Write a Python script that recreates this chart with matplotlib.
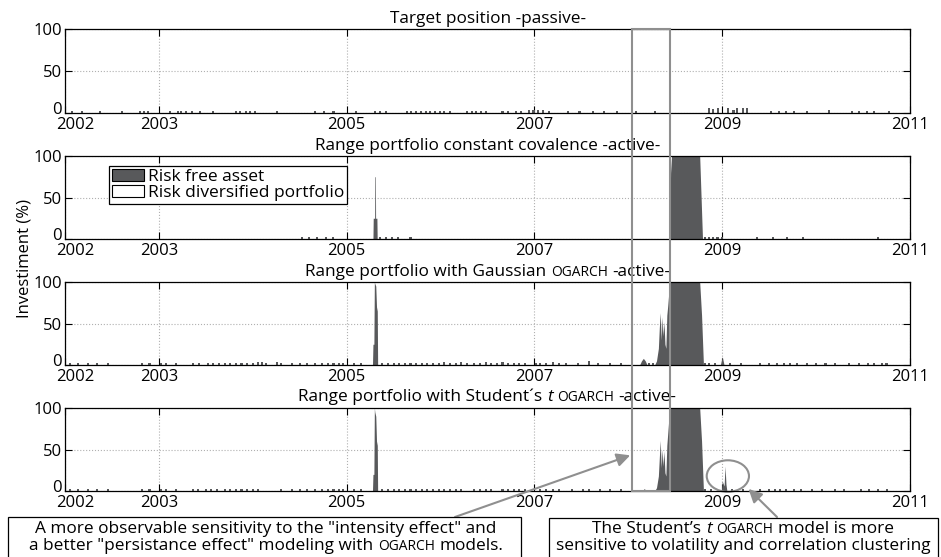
import matplotlib
matplotlib.use('Agg')
import matplotlib.pyplot as plt
import matplotlib.transforms as mtransforms
from matplotlib.patches import Patch, Rectangle, Ellipse

plt.rcParams['font.family'] = ['Open Sans', 'DejaVu Sans']
plt.rcParams['font.size'] = 12

DARK = '#58595b'
GRAY = '#8f8f8f'

year_ticks = [2002, 2003, 2005, 2007, 2009, 2011]
pct_ticks = [0, 50, 100]

# ---- panel 1: target position, passive (small blips only)
passive_x = [2002.00,
             2002.07, 2002.18, 2002.37, 2002.61, 2002.80, 2002.84, 2002.88, 2003.12,
             2003.20, 2003.24, 2003.29, 2003.35, 2003.44, 2003.58, 2003.82, 2003.86,
             2003.93, 2003.97, 2004.02, 2004.26, 2004.66, 2004.76, 2004.86,
             2005.10, 2005.30, 2005.36, 2005.42, 2005.64, 2005.69, 2005.74, 2005.79,
             2005.84, 2005.89, 2005.94, 2005.99, 2006.04, 2006.10, 2006.28, 2006.33,
             2006.38, 2006.43, 2006.48, 2006.66, 2006.72, 2006.80, 2006.86,
             2006.94, 2006.99, 2007.04, 2007.09, 2007.16,
             2007.36, 2007.48, 2007.62, 2007.74, 2007.88, 2008.08, 2008.28,
             2008.86, 2008.90, 2008.96, 2009.06, 2009.12, 2009.16, 2009.22, 2009.26,
             2009.52, 2009.60, 2009.68, 2009.76, 2009.90,
             2010.14,
             2010.38, 2010.46, 2010.54, 2010.62, 2010.78]
passive_h = [19,
             2, 2, 2, 2, 2, 2, 2, 2,
             2, 2, 2, 2, 2, 2, 2, 2,
             2, 2, 2, 2, 2, 2, 2,
             2, 2, 2, 2, 2, 2, 2, 2,
             2, 2, 2, 2, 2, 2, 2, 2,
             2, 2, 2, 2, 2, 2, 2,
             3, 3, 3, 3, 2,
             2, 2, 2, 2, 2, 2, 2,
             6, 5, 6, 6, 3, 6, 6, 6,
             2, 2, 2, 2, 2,
             4,
             2, 2, 2, 2, 2]

# ---- panel 2: constant covalence
cc_x = [2002.00, 2004.52, 2004.60, 2004.68, 2004.78, 2004.85, 2005.36, 2005.42,
        2005.48, 2005.55, 2005.68, 2008.82, 2008.86, 2008.90, 2008.95, 2009.00,
        2009.37, 2009.54, 2009.69, 2009.86, 2010.66]
cc_h = [18, 2, 2, 2, 2, 2, 2, 2,
        2, 2, 2, 3, 2, 3, 2, 2,
        2, 2, 2, 2, 2]
cc_area_x = [2005.280, 2005.283, 2005.298, 2005.300, 2005.306, 2005.308, 2005.322,
             2005.325, 2008.44, 2008.45, 2008.46, 2008.76, 2008.79]
cc_area_y = [0, 25, 25, 75, 75, 25, 25, 0, 0, 80, 100, 100, 0]

# ---- panel 3: Gaussian OGARCH
ga_x = [2002.05, 2002.14, 2002.24, 2002.34, 2002.46, 2002.82, 2002.90, 2003.02,
        2003.08, 2003.18, 2003.36, 2003.43, 2003.52, 2003.58, 2003.64, 2003.70,
        2003.76, 2003.82, 2003.88, 2003.94, 2004.00, 2004.06, 2004.10, 2004.14,
        2004.26, 2004.30, 2004.42, 2004.50, 2004.58, 2004.66, 2004.74, 2004.80,
        2004.86, 2004.92, 2004.96, 2005.08, 2005.15, 2005.38, 2005.44, 2005.50,
        2005.56, 2005.62, 2005.68, 2005.74, 2005.80, 2005.86, 2005.92, 2005.98,
        2006.04, 2006.10, 2006.16, 2006.22, 2006.28, 2006.36, 2006.42, 2006.48,
        2006.54, 2006.60, 2006.66, 2006.72, 2006.78, 2006.84, 2006.90, 2007.02,
        2007.06, 2007.12, 2007.20, 2007.26, 2007.34, 2007.46, 2007.58, 2007.68,
        2007.80, 2007.92, 2008.22, 2008.26, 2008.82, 2008.86, 2008.92, 2009.08,
        2009.20, 2009.40, 2009.50, 2009.58, 2009.66, 2009.72, 2009.80, 2009.90,
        2010.00, 2010.10, 2010.20, 2010.35, 2010.46, 2010.55, 2010.62, 2010.70,
        2010.75]
ga_h = [2, 2, 2, 2, 2, 2, 2, 3,
        2, 2, 2, 2, 3, 2, 2, 2,
        3, 2, 2, 3, 2, 4, 4, 3,
        4, 3, 2, 2, 2, 2, 2, 3,
        2, 3, 2, 2, 2, 2, 2, 2,
        2, 2, 2, 2, 3, 2, 2, 3,
        4, 2, 3, 4, 2, 3, 3, 4,
        2, 2, 4, 3, 2, 2, 3, 2,
        2, 3, 4, 2, 2, 2, 5, 2,
        2, 2, 2, 3, 3, 2, 3, 2,
        2, 2, 2, 2, 2, 2, 2, 2,
        2, 2, 2, 2, 2, 2, 2, 3,
        3]
ga_area_x = [2005.275, 2005.280, 2005.290, 2005.295, 2005.300, 2005.310, 2005.318,
             2005.326, 2005.330, 2008.12, 2008.14, 2008.16, 2008.18, 2008.20,
             2008.28, 2008.30, 2008.32, 2008.33, 2008.34, 2008.35, 2008.36,
             2008.37, 2008.38, 2008.39, 2008.40, 2008.41, 2008.42, 2008.44,
             2008.76, 2008.78, 2008.80, 2008.98, 2009.00, 2009.02]
ga_area_y = [0, 25, 25, 100, 98, 95, 70, 65, 0, 0, 5, 8, 5, 0,
             0, 5, 20, 45, 63, 30, 58, 35, 52, 25, 20, 60, 72, 100,
             100, 60, 0, 0, 10, 0]

# ---- panel 4: Student's t OGARCH
st_x = [2002.05, 2002.14, 2002.24, 2002.34, 2002.46, 2002.82, 2002.90, 2003.02,
        2003.08, 2003.18, 2003.36, 2003.42, 2003.50, 2003.56, 2003.62, 2003.70,
        2003.76, 2003.82, 2003.88, 2003.94, 2004.00, 2004.06, 2004.30, 2004.42,
        2004.50, 2004.58, 2004.66, 2004.74, 2004.80, 2004.86, 2004.92, 2004.96,
        2005.08, 2005.15, 2005.38, 2005.44, 2005.50, 2005.56, 2005.62, 2005.68,
        2005.74, 2005.80, 2005.86, 2005.92, 2005.98, 2006.04, 2006.10, 2006.16,
        2006.22, 2006.36, 2006.42, 2006.48, 2006.54, 2006.66, 2006.72, 2006.78,
        2006.84, 2006.90, 2007.06, 2007.12, 2007.20, 2007.26, 2007.40, 2007.52,
        2007.58, 2007.70, 2007.80, 2007.92, 2008.82, 2008.88, 2009.10, 2009.22,
        2009.40, 2009.50, 2009.56, 2009.62, 2009.68, 2009.76, 2009.84, 2009.96,
        2010.06, 2010.20, 2010.30, 2010.48, 2010.56, 2010.66, 2010.76]
st_h = [2, 2, 2, 2, 2, 2, 2, 2,
        2, 2, 2, 2, 2, 2, 2, 2,
        2, 2, 2, 2, 2, 2, 2, 2,
        2, 2, 2, 2, 2, 2, 2, 2,
        2, 2, 2, 2, 2, 2, 2, 2,
        2, 2, 2, 2, 2, 2, 2, 2,
        2, 2, 2, 2, 2, 2, 2, 2,
        2, 2, 2, 2, 3, 2, 2, 2,
        3, 2, 2, 2, 3, 2, 2, 2,
        2, 2, 2, 2, 2, 2, 2, 2,
        2, 2, 2, 2, 2, 2, 2]
st_area_x = [2005.275, 2005.280, 2005.290, 2005.295, 2005.300, 2005.310, 2005.318,
             2005.326, 2005.330, 2008.15, 2008.17, 2008.19, 2008.28, 2008.30,
             2008.32, 2008.33, 2008.34, 2008.35, 2008.36, 2008.37, 2008.38,
             2008.39, 2008.40, 2008.41, 2008.42, 2008.44, 2008.76, 2008.78,
             2008.80, 2008.99, 2009.00, 2009.02, 2009.03, 2009.04, 2009.05]
st_area_y = [0, 20, 20, 100, 95, 90, 60, 55, 0, 0, 3, 0, 0, 4,
             18, 40, 61, 28, 50, 30, 48, 22, 18, 55, 70, 100, 100, 60,
             0, 0, 12, 6, 30, 8, 0]

# titles / notes, split where the small-caps OGARCH and italic t sit
titles = [
    [("Target position -passive-", 'n')],
    [("Range portfolio constant covalence -active-", 'n')],
    [("Range portfolio with Gaussian", 'n'), ("OGARCH", 'sc'), ("-active-", 'n')],
    [("Range portfolio with Student´s", 'n'), ("t", 'i'), ("OGARCH", 'sc'), ("-active-", 'n')],
]
note_left = [
    [('A more observable sensitivity to the "intensity effect" and', 'n')],
    [('a better "persistance effect" modeling with', 'n'), ("OGARCH", 'sc'), ("models.", 'n')],
]
note_right = [
    [("The Student’s", 'n'), ("t", 'i'), ("OGARCH", 'sc'), ("model is more", 'n')],
    [("sensitive to volatility and correlation clustering", 'n')],
]

W, H = 941, 557
fig = plt.figure(figsize=(W / 100, H / 100), dpi=100)


def px_rect(left, top, width, height):
    return [left / W, 1 - (top + height) / H, width / W, height / H]


panels = [
    (29, 84, passive_x, passive_h, None, None),
    (156, 83, cc_x, cc_h, cc_area_x, cc_area_y),
    (282, 83, ga_x, ga_h, ga_area_x, ga_area_y),
    (408, 83, st_x, st_h, st_area_x, st_area_y),
]

axes = []
for top, hgt, bx, bh, ax_x, ax_y in panels:
    assert len(bx) == len(bh)
    ax = fig.add_axes(px_rect(65, top, 845, hgt))
    ax.set_axisbelow(True)
    ax.bar(bx, bh, width=0.022, color=DARK, linewidth=0)
    if ax_x is not None:
        assert len(ax_x) == len(ax_y)
        ax.fill_between(ax_x, ax_y, color=DARK, linewidth=0)
    ax.set_xlim(2002, 2011)
    ax.set_ylim(0, 100)
    ax.set_xticks(year_ticks)
    ax.set_yticks(pct_ticks)
    ax.tick_params(direction='in', length=5, width=0.8, top=True, right=True,
                   labelsize=12)
    ax.tick_params(axis='x', pad=3)
    ax.tick_params(axis='y', pad=2)
    ax.grid(True, linestyle=':', color='#b0b0b0', linewidth=0.8)
    for sp in ax.spines.values():
        sp.set_linewidth(0.9)
        sp.set_color('black')
    first = ax.xaxis.get_major_ticks()[0].label1
    first.set_transform(first.get_transform() +
                        mtransforms.ScaledTranslation(0.1, 0, fig.dpi_scale_trans))
    zero = ax.yaxis.get_major_ticks()[0].label1
    zero.set_transform(zero.get_transform() +
                       mtransforms.ScaledTranslation(0, 0.05, fig.dpi_scale_trans))
    axes.append(ax)

ax1, ax2, ax3, ax4 = axes

leg = ax2.legend(handles=[Patch(facecolor=DARK, edgecolor='black', linewidth=0.8),
                          Patch(facecolor='white', edgecolor='black', linewidth=0.8)],
                 labels=['Risk free asset', 'Risk diversified portfolio'],
                 loc='upper left', bbox_to_anchor=(44 / 845, 1 - 10 / 83),
                 fancybox=False, edgecolor='black', framealpha=1, fontsize=12.5,
                 borderpad=0.15, labelspacing=0.0, handlelength=1.85,
                 handleheight=0.7, handletextpad=0.25, borderaxespad=0)
leg.get_frame().set_linewidth(0.9)

fig.text(25 / W, 1 - 258 / H, 'Investiment (%)', rotation=90,
         ha='center', va='center', fontsize=12)

renderer = fig.canvas.get_renderer()
ident = mtransforms.IdentityTransform()


def text_width(s, size, style='normal'):
    t = fig.text(0, 0, s, fontsize=size, style=style, transform=ident)
    w = t.get_window_extent(renderer).width
    t.remove()
    return w


def put_line(parts, cx, base_from_top, size):
    gap = text_width('a a', size) - text_width('aa', size)
    arts, widths = [], []
    for s, kind in parts:
        fs = size * 0.8 if kind == 'sc' else size
        st = 'italic' if kind == 'i' else 'normal'
        t = fig.text(0, H - base_from_top, s, fontsize=fs, style=st,
                     ha='left', va='baseline', transform=ident)
        arts.append(t)
        widths.append(t.get_window_extent(renderer).width)
    x = cx - (sum(widths) + gap * (len(parts) - 1)) / 2
    for t, w in zip(arts, widths):
        t.set_x(x)
        x += w + gap


for parts, base in zip(titles, [23, 150, 276, 401]):
    put_line(parts, 487.5, base, 12.4)

for parts, base in zip(note_left, [533, 550]):
    put_line(parts, 266, base, 12.4)
for parts, base in zip(note_right, [533, 550]):
    put_line(parts, 743, base, 12.4)

# note boxes
fig.add_artist(Rectangle((8 / W, -0.02), (521 - 8) / W, 0.02 + 1 - 517 / H,
                         transform=fig.transFigure, fill=False, ec='black', lw=0.9))
fig.add_artist(Rectangle((549 / W, -0.02), (938 - 549) / W, 0.02 + 1 - 518 / H,
                         transform=fig.transFigure, fill=False, ec='black', lw=0.9))

# highlight frame across all panels
span = mtransforms.blended_transform_factory(ax1.transData, fig.transFigure)
y_lo, y_hi = 1 - 491 / H, 1 - 29 / H
fig.add_artist(Rectangle((2008.04, y_lo), 0.40, y_hi - y_lo, transform=span,
                         fill=False, ec=GRAY, lw=1.5, zorder=5))

ax4.add_patch(Ellipse((2009.06, 18), 0.45, 38, fill=False, ec=GRAY, lw=1.5,
                      clip_on=False))
arrow = dict(arrowstyle='-|>', color=GRAY, lw=1.5, mutation_scale=20,
             shrinkA=0, shrinkB=0)
ax4.annotate('', xy=(2008.02, 43), xytext=(455 / W, 1 - 517 / H),
             textcoords='figure fraction', arrowprops=arrow, annotation_clip=False)
ax4.annotate('', xy=(2009.28, 2.5), xytext=(777 / W, 1 - 517 / H),
             textcoords='figure fraction', arrowprops=arrow, annotation_clip=False)

fig.savefig('out.png', dpi=100)
